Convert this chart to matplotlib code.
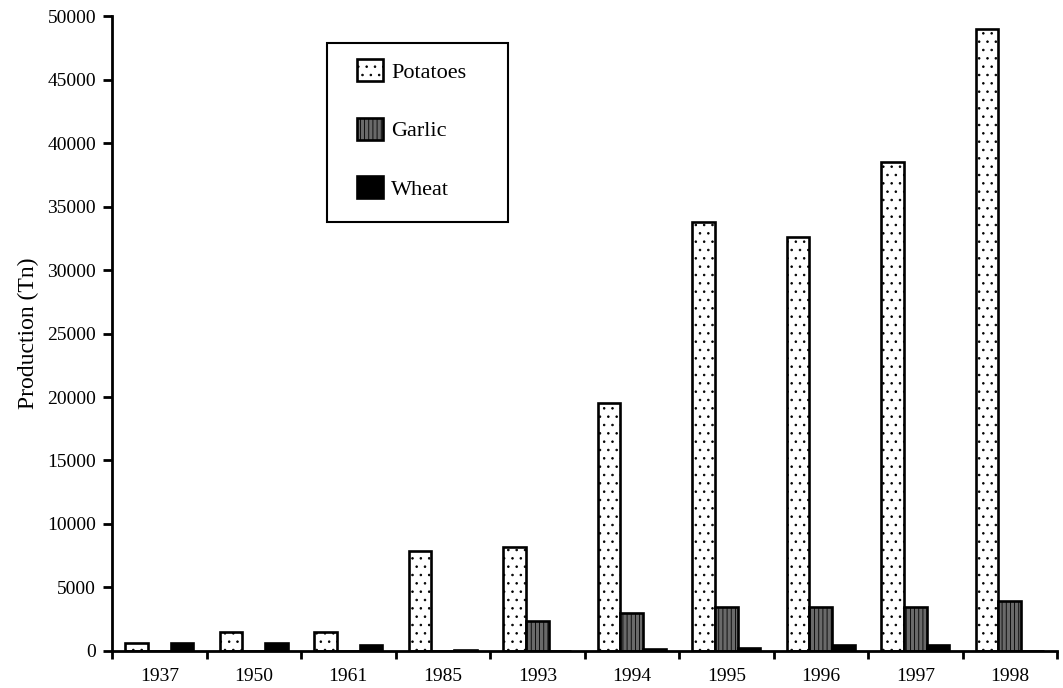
import numpy as np
import matplotlib
matplotlib.use("Agg")
from matplotlib import pyplot as plt
from matplotlib.patches import Rectangle

years = ["1937", "1950", "1961", "1985", "1993", "1994", "1995", "1996", "1997", "1998"]
potatoes = [600, 1500, 1500, 7900, 8200, 19500, 33800, 32600, 38500, 49000]
garlic = [0, 0, 0, 0, 2400, 3000, 3500, 3500, 3500, 3900]
wheat = [600, 600, 450, 100, 0, 150, 200, 450, 450, 0]


def main():
    plt.rcParams['font.family'] = ['Liberation Serif', 'DejaVu Serif']
    plt.rcParams['hatch.linewidth'] = 0.6
    fig = plt.figure(figsize=(10.63, 6.88), dpi=100)
    ax = fig.add_axes([0.1054, 0.0538, 0.889, 0.9229])

    x = np.arange(len(years))
    w = 0.24
    ax.bar(x - w, potatoes, w, color="white", edgecolor="black", linewidth=1.9,
           hatch="..", label="Potatoes")
    ax.bar(x, garlic, w, color="#6a6a6a", edgecolor="black", linewidth=1.9,
           hatch="||||", label="Garlic")
    ax.bar(x + w, wheat, w, color="black", edgecolor="black", linewidth=1.9,
           label="Wheat")

    ax.set_xlim(-0.5, len(years) - 0.5)
    ax.set_ylim(0, 50000)
    ax.set_yticks(range(0, 50001, 5000))
    ax.set_xticks(x)
    ax.set_xticklabels(years, fontsize=14)
    ax.set_xticks(np.arange(len(years) + 1) - 0.5, minor=True)
    ax.tick_params(axis="x", which="major", length=0, pad=12)
    ax.tick_params(axis="x", which="minor", length=6, width=2, direction="out")
    ax.tick_params(axis="y", length=6.5, width=2, labelsize=14, pad=5)
    ax.set_ylabel("Production (Tn)", fontsize=17, labelpad=6)

    for s in ["top", "right"]:
        ax.spines[s].set_visible(False)
    for s in ["left", "bottom"]:
        ax.spines[s].set_linewidth(2)

    # legend box drawn separately so its padding matches the original
    fig.patches.append(Rectangle((327 / 1063, 1 - 222 / 688), 181 / 1063, 179 / 688,
                                 transform=fig.transFigure, fill=False,
                                 edgecolor="black", linewidth=1.5))
    ax.legend(loc="upper left", bbox_to_anchor=(357 / 1063, 1 - 59 / 688),
              bbox_transform=fig.transFigure, fontsize=16, frameon=False,
              handlelength=1.15, handleheight=1.15, labelspacing=1.58,
              borderpad=0, handletextpad=0.4, borderaxespad=0)

    fig.savefig("out.png", dpi=100)


if __name__ == '__main__':
    main()
